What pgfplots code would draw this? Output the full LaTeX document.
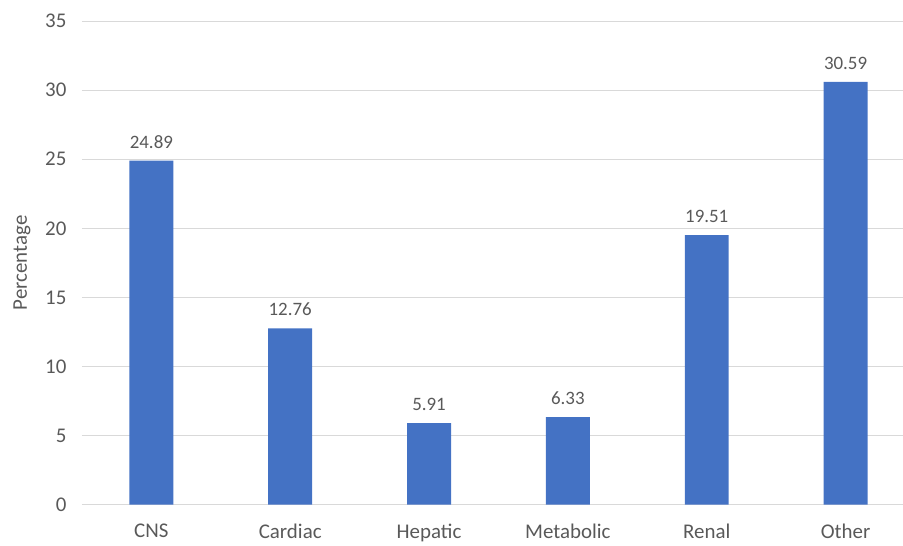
\documentclass[border=0pt]{standalone}
\usepackage{pgfplots}
\pgfplotsset{compat=1.18}
\usetikzlibrary{calc}
\usepackage{fontspec}
\setmainfont{Carlito}
\definecolor{barblue}{HTML}{4472C4}
\definecolor{txtgray}{HTML}{595959}
\definecolor{gridgray}{HTML}{D9D9D9}
\begin{document}
\begin{tikzpicture}
\begin{axis}[
  name=ax,
  scale only axis,
  width=821bp, height=484bp,
  xmin=-0.5, xmax=5.41,
  ymin=0, ymax=35,
  ytick={0,5,...,35},
  xtick={0,1,2,3,4,5},
  xticklabels={CNS,Cardiac,Hepatic,Metabolic,Renal,Other},
  axis line style={draw=none},
  axis x line*=bottom,
  x axis line style={draw=gridgray, line width=1pt},
  tick style={draw=none},
  ymajorgrids,
  grid style={draw=gridgray, line width=0.9pt},
  ticklabel style={font=\fontsize{21}{24}\selectfont, text=txtgray},
  /pgf/number format/assume math mode=true,
  yticklabel style={xshift=-12bp},
  xticklabel style={yshift=-16bp},
  ylabel={Percentage},
  ylabel style={font=\fontsize{21}{24}\selectfont, text=txtgray},
  ylabel shift=8bp,
  clip=false,
  nodes near coords,
  nodes near coords style={font=\fontsize{19}{22}\selectfont, text=txtgray, yshift=9bp, /pgf/number format/.cd, fixed, fixed zerofill, precision=2, assume math mode=true},
]
\addplot[ybar, bar width=44bp, fill=barblue, draw=none] coordinates {
  (0,24.89) (1,12.76) (2,5.91) (3,6.33) (4,19.51) (5,30.59)
};
\end{axis}
\path[use as bounding box] ($(ax.south west)+(-82bp,-37bp)$) rectangle ($(ax.north east)+(0bp,21bp)$);
\end{tikzpicture}
\end{document}
